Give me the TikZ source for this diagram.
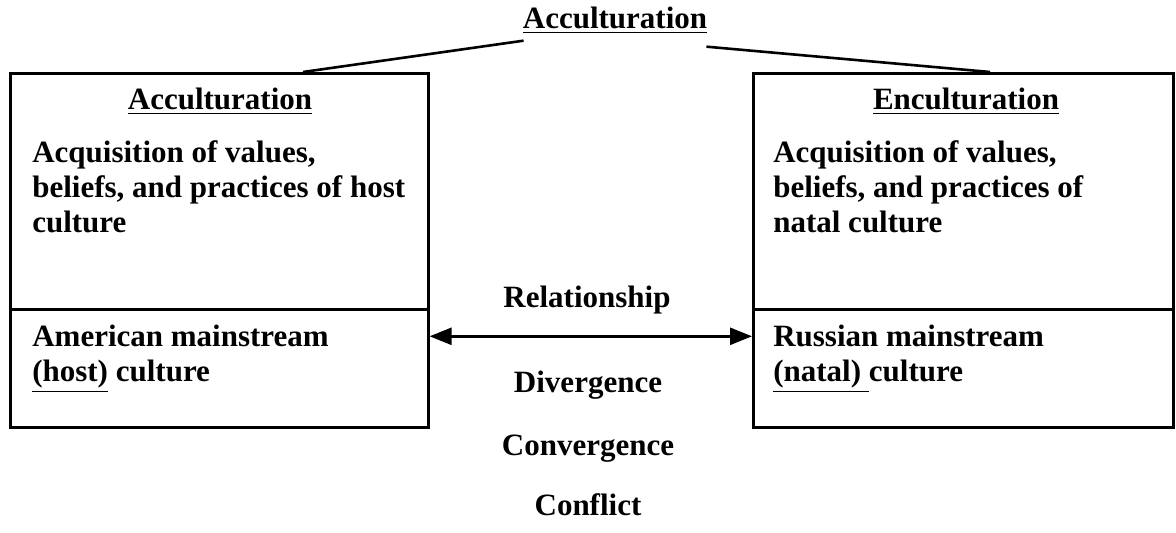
\documentclass[tikz,border=0pt]{standalone}
\usepackage{fontspec}
\setmainfont{Liberation Serif}
\usetikzlibrary{arrows.meta}
\usetikzlibrary{positioning}

\begin{document}
\begin{tikzpicture}[x=0.5pt,y=-0.5pt,line width=1.3pt,
  every node/.style={font=\bfseries\fontsize{15.5}{17.5}\selectfont,inner sep=0pt}]

  \tikzstyle{cell}=[rectangle,draw,anchor=north west];
  \tikzstyle{heading}=[anchor=base];
  \tikzstyle{body}=[anchor=base west,align=left];
  \tikzstyle{rel}=[anchor=base];
  \tikzstyle{relarrow}=[{Triangle[length=11pt,width=8.5pt]}-{Triangle[length=11pt,width=8.5pt]}];

  \useasboundingbox (0,0) rectangle (1176,533);

  % left side
  \node[cell,minimum width=209pt,minimum height=118pt] (hostTop) at (9,72) {};
  \node[cell,minimum width=209pt,minimum height=59pt]  (hostBottom) at (9,308) {};
  % right side
  \node[cell,minimum width=210pt,minimum height=118pt] (natalTop) at (752,72) {};
  \node[cell,minimum width=210pt,minimum height=59pt]  (natalBottom) at (752,308) {};

  \node[heading] (title) at (615,29) {\underline{Acculturation}};
  \node[heading] (hostHead) at (220,110) {\underline{Acculturation}};
  \node[heading] (natalHead) at (966,110) {\underline{Enculturation}};

  % base anchor sits on the last line
  \node[body] (hostText) at (31,233)
    {Acquisition of values,\\beliefs, and practices of host\\culture};
  \node[body] (natalText) at (772,233)
    {Acquisition of values,\\beliefs, and practices of\\natal culture};
  \node[body] (hostName) at (31,382)
    {American mainstream\\\underline{(host)} culture};
  \node[body] (natalName) at (772,382)
    {Russian mainstream\\\underline{(natal)\ }culture};

  \node[rel] (relation) at (587,308) {Relationship};
  \node[rel] (diverge) at (588,393) {Divergence};
  \node[rel] (converge) at (588,455) {Convergence};
  \node[rel] (conflict) at (588,515) {Conflict};

  \draw ([xshift=1pt,yshift=-3pt]title.south west) -- ([xshift=147pt]hostTop.north west);
  \draw ([xshift=-1pt,yshift=-6pt]title.south east) -- ([xshift=119pt]natalTop.north west);
  \draw[relarrow] ([yshift=16pt]hostBottom.east) -- ([yshift=16pt]natalBottom.west);

\end{tikzpicture}
\end{document}
